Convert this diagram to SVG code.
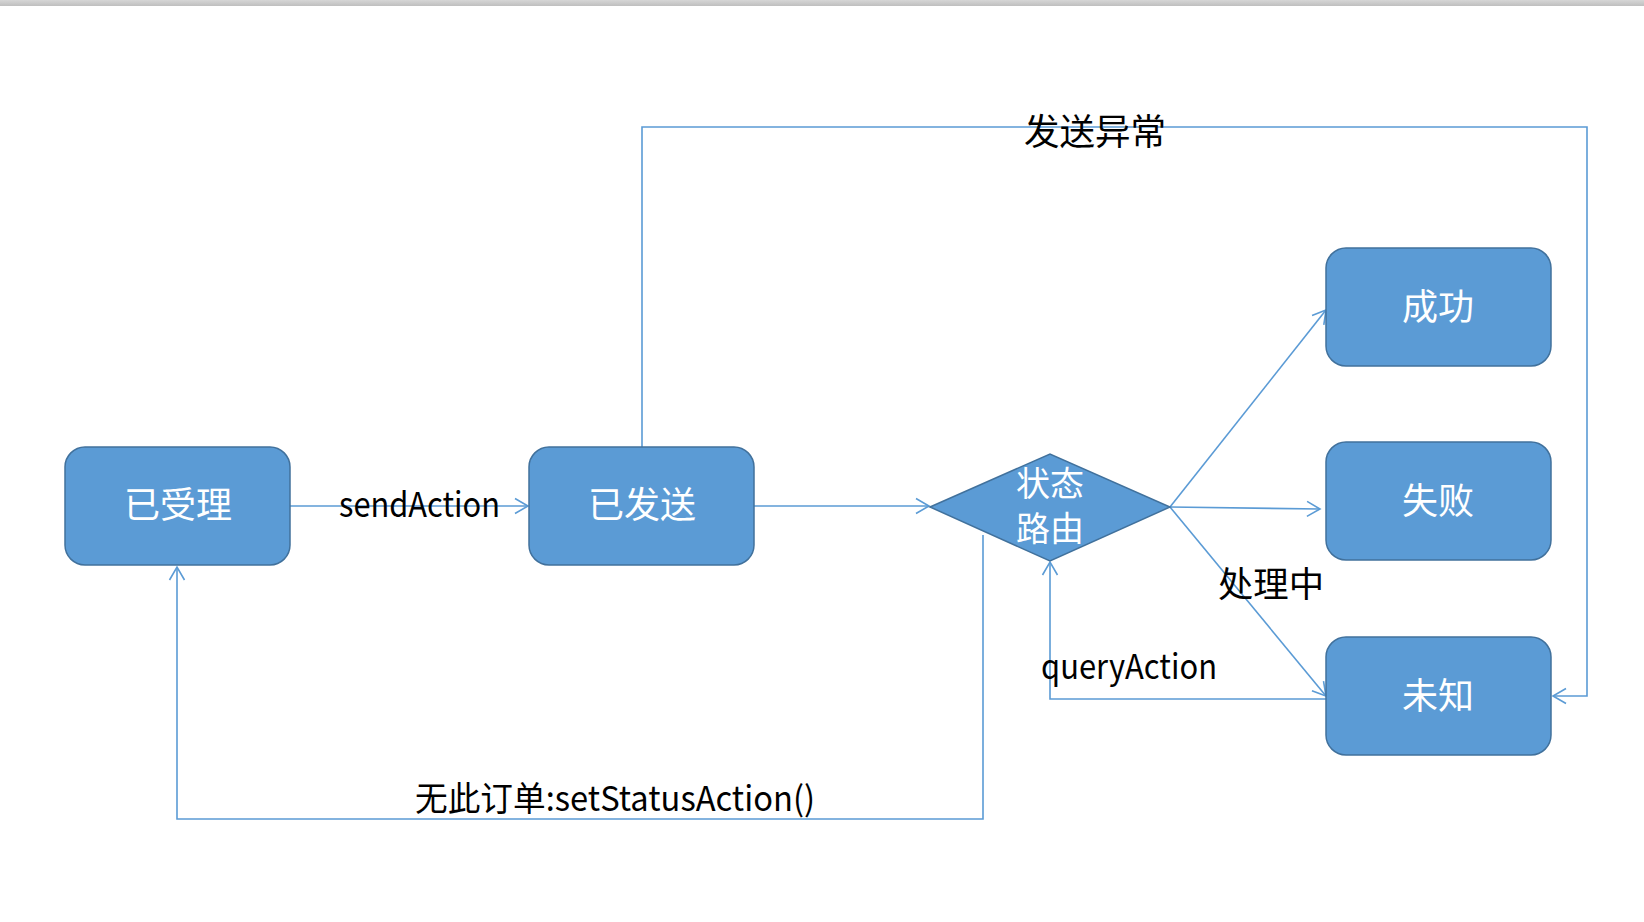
<svg xmlns="http://www.w3.org/2000/svg" width="1644" height="922" viewBox="0 0 1644 922">
<defs>
<linearGradient id="bar" x1="0" y1="0" x2="0" y2="1"><stop offset="0" stop-color="#d6d6d6"/><stop offset="1" stop-color="#bfbfbf"/></linearGradient>
<marker id="arr" markerUnits="userSpaceOnUse" markerWidth="16" markerHeight="18" refX="14" refY="9" orient="auto" viewBox="0 0 16 18">
<path d="M1,1.5 L14,9 L1,16.5" fill="none" stroke="#5B9BD5" stroke-width="1.6"/>
</marker>
<style>
.node{fill:#5B9BD5;stroke:#41719C;stroke-width:1.5}
.nt{fill:#fff;font-family:"Noto Sans CJK SC","Noto Sans",sans-serif;font-size:36px;text-anchor:middle}
.ln{fill:none;stroke:#5B9BD5;stroke-width:1.6}
.lb{fill:#000;font-family:"Noto Sans CJK SC","Noto Sans",sans-serif;font-size:34px}
</style>
</defs>
<rect x="0" y="0" width="1644" height="922" fill="#fff"/>
<rect x="0" y="0" width="1644" height="6" fill="url(#bar)"/>
<g id="connectors">
<path class="ln" d="M290,506 L528,506" marker-end="url(#arr)"/>
<path class="ln" d="M754,506 L929,506" marker-end="url(#arr)"/>
<path class="ln" d="M642,447 L642,127 L1587,127 L1587,696 L1553,696" marker-end="url(#arr)"/>
<path class="ln" d="M1170,507 L1326,310" marker-end="url(#arr)"/>
<path class="ln" d="M1170,507 L1320,509" marker-end="url(#arr)"/>
<path class="ln" d="M1170,507 L1326,696" marker-end="url(#arr)"/>
<path class="ln" d="M1326,699 L1050,699 L1050,562" marker-end="url(#arr)"/>
<path class="ln" d="M983,535 L983,819 L177,819 L177,567" marker-end="url(#arr)"/>
</g>
<g id="labels">
<text class="lb" x="339" y="517" textLength="161" lengthAdjust="spacingAndGlyphs">sendAction</text>
<text class="lb" x="1024" y="145" style="font-size:36px" textLength="142" lengthAdjust="spacingAndGlyphs">发送异常</text>
<text class="lb" x="1218" y="597" style="font-size:35px" textLength="106" lengthAdjust="spacingAndGlyphs">处理中</text>
<text class="lb" x="1041" y="679" textLength="176" lengthAdjust="spacingAndGlyphs">queryAction</text>
<text class="lb" x="415" y="811" textLength="400" lengthAdjust="spacingAndGlyphs">无此订单:setStatusAction()</text>
</g>
<g id="n1"><rect class="node" x="65" y="447" width="225" height="118" rx="20"/><text class="nt" x="178" y="518">已受理</text></g>
<g id="n2"><rect class="node" x="529" y="447" width="225" height="118" rx="20"/><text class="nt" x="642" y="518">已发送</text></g>
<g id="n3"><polygon class="node" points="930,507 1050,454 1170,507 1050,561"/><text class="nt" style="font-size:34px"><tspan x="1050" y="496">状态</tspan><tspan x="1050" y="541">路由</tspan></text></g>
<g id="n4"><rect class="node" x="1326" y="248" width="225" height="118" rx="20"/><text class="nt" x="1438" y="320">成功</text></g>
<g id="n5"><rect class="node" x="1326" y="442" width="225" height="118" rx="20"/><text class="nt" x="1438" y="514">失败</text></g>
<g id="n6"><rect class="node" x="1326" y="637" width="225" height="118" rx="20"/><text class="nt" x="1438" y="709">未知</text></g>
</svg>
